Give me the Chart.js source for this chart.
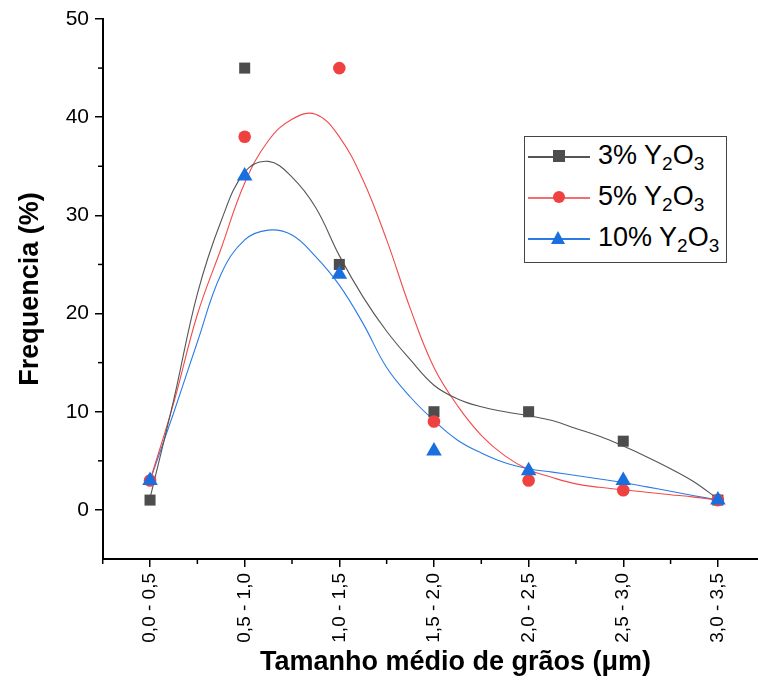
<!DOCTYPE html>
<html>
<head>
<meta charset="utf-8">
<script src="https://cdn.jsdelivr.net/npm/chart.js@4.4.1/dist/chart.umd.min.js"></script>
<style>
  body { margin: 0; overflow: hidden; background: #fff; }
  #wrap { position: relative; width: 817px; height: 682px; }
  #legend { position: absolute; left: 524px; top: 136px; width: 201px; height: 125px;
            border: 1.5px solid #444; background: #fff; font-family: 'Liberation Sans', Arial, sans-serif; }
  .ln { position: absolute; left: 3px; width: 62px; height: 1.5px; }
  .mk { position: absolute; }
  .tx { position: absolute; left: 73px; font-size: 27px; line-height: 30px; color: #000; white-space: nowrap; }
  .tx sub { font-size: 19px; vertical-align: -6px; line-height: 0; }
</style>
</head>
<body>
<div id="wrap">
  <canvas id="myChart" width="817" height="682"></canvas>
  <div id="legend"></div>
</div>
<script>
// grain size classes (um)
var categories = ['0,0 - 0,5', '0,5 - 1,0', '1,0 - 1,5', '1,5 - 2,0', '2,0 - 2,5', '2,5 - 3,0', '3,0 - 3,5'];

// measured frequencies (%)
var freq3 = [1, 45, 25, 10, 10, 7, 1];
var freq5 = [3, 38, 45, 9, 3, 2, 1];
var freq10 = [3, 34, 24, 6, 4, 3, 1];

// fitted curves, every quarter class
var fitX = [0, 0.25, 0.5, 0.75, 1, 1.25, 1.5, 1.75, 2, 2.25, 2.5, 2.75, 3, 3.25, 3.5, 3.75, 4, 4.25, 4.5, 4.75, 5, 5.25, 5.5, 5.75, 6];
var fit3 = [1.2, 11.2, 22.0, 29.4, 34.4, 35.5, 33.9, 30.8, 25.9, 21.7, 18.2, 15.3, 12.7, 11.3, 10.5, 10.0, 9.6, 9.1, 8.3, 7.5, 6.5, 5.4, 4.2, 2.85, 1.1];
var fit5 = [3, 10.9, 19.9, 26.6, 33.3, 37.6, 39.8, 40.3, 38.0, 33.6, 27.5, 20.5, 14.5, 10.6, 7.6, 5.5, 4.1, 3.3, 2.65, 2.3, 2.05, 1.8, 1.55, 1.3, 1.0];
var fit10 = [3, 9.9, 17.1, 24.0, 27.5, 28.5, 28.0, 25.8, 22.9, 19.0, 14.5, 11.5, 9.1, 7.1, 5.8, 4.8, 4.2, 3.85, 3.5, 3.15, 2.8, 2.35, 1.9, 1.45, 1.0];

var seriesNames = ['3%', '5%', '10%'];
var minorX = [-0.5, 0.5, 1.5, 2.5, 3.5, 4.5, 5.5, 6.5];
var minorY = [5, 15, 25, 35, 45];

var font = "'Liberation Sans', Arial, sans-serif";
var colGray = '#4d4d4d', colRed = '#f04141', colBlue = '#1a6fe0';

function pts(xs, ys) {
    return ys.map(function (y, i) { return {x: xs[i], y: y}; });
}
var idx = categories.map(function (c, i) { return i; });

// short minor ticks, drawn on the scales
var minorTicks = {
    id: 'minorTicks',
    afterDraw: function (chart) {
        var ctx = chart.ctx, x = chart.scales.x, y = chart.scales.y;
        ctx.save();
        ctx.strokeStyle = '#000';
        ctx.lineWidth = 1.5;
        minorX.forEach(function (v) {
            var px = x.getPixelForValue(v);
            ctx.beginPath(); ctx.moveTo(px, x.top); ctx.lineTo(px, x.top + 5); ctx.stroke();
        });
        minorY.forEach(function (v) {
            var py = y.getPixelForValue(v);
            ctx.beginPath(); ctx.moveTo(y.right, py); ctx.lineTo(y.right - 5, py); ctx.stroke();
        });
        ctx.restore();
    }
};

function fitLine(ys, color) {
    return {type: 'line', data: pts(fitX, ys), borderColor: color, borderWidth: 1.1,
            pointRadius: 0, tension: 0.4, fill: false, order: 10};
}
function marks(ys, style, r, color, order) {
    return {type: 'scatter', data: pts(idx, ys), pointStyle: style, pointRadius: r,
            backgroundColor: color, borderWidth: 0, showLine: false, order: order};
}

var ctx = document.getElementById('myChart');
var myChart = new Chart(ctx, {
    data: {
        datasets: [
            fitLine(fit3, '#555555'),
            fitLine(fit5, '#f24a4a'),
            fitLine(fit10, '#2a7be4'),
            marks(freq3, 'rect', 7.8, colGray, 3),
            marks(freq5, 'circle', 6.3, colRed, 2),
            marks(freq10, 'triangle', 9, colBlue, 1)
        ]
    },
    options: {
        responsive: false,
        animation: false,
        devicePixelRatio: 1,
        layout: {padding: {top: 19, right: 3, left: 0, bottom: 0}},
        plugins: {legend: {display: false}, tooltip: {enabled: false}},
        scales: {
            x: {
                type: 'linear', min: -0.497, max: 6.952,
                afterFit: function (s) { s.height = 123; },
                grid: {drawOnChartArea: false, color: '#000', lineWidth: 1.5, tickLength: 8},
                border: {color: '#000', width: 2},
                ticks: {stepSize: 1, includeBounds: false, autoSkip: false, maxRotation: 90, minRotation: 90,
                        padding: 6, color: '#000', font: {family: font, size: 19},
                        callback: function (v) { return categories[v] !== undefined ? categories[v] : ''; }},
                title: {display: true, text: 'Tamanho médio de grãos (μm)', color: '#000',
                        font: {family: font, size: 27, weight: 'bold'}, padding: {top: 0, bottom: 3}}
            },
            y: {
                type: 'linear', min: -5, max: 50,
                afterFit: function (s) { s.width = 103; },
                grid: {drawOnChartArea: false, color: '#000', lineWidth: 1.5, tickLength: 8},
                border: {color: '#000', width: 2},
                ticks: {stepSize: 10, includeBounds: false, padding: 6, color: '#000', font: {family: font, size: 21}},
                title: {display: true, text: 'Frequencia (%)', color: '#000',
                        font: {family: font, size: 27, weight: 'bold'}, padding: {top: 14, bottom: 0}}
            }
        }
    },
    plugins: [minorTicks]
});

// legend with subscripts
var legend = document.getElementById('legend');
var rows = [
    {c: '#555555', y: 19, mk: 'width:11.6px;height:11.6px;background:' + colGray + ';left:28.2px;top:13.2px;'},
    {c: '#f07070', y: 60, mk: 'width:12.6px;height:12.6px;border-radius:50%;background:' + colRed + ';left:27.7px;top:53.7px;'},
    {c: '#2a7be4', y: 101, mk: 'width:0;height:0;border-left:7.8px solid transparent;border-right:7.8px solid transparent;border-bottom:13.5px solid ' + colBlue + ';left:26.2px;top:93.5px;'}
];
rows.forEach(function (r, i) {
    legend.innerHTML +=
        '<div class="ln" style="top:' + r.y + 'px;background:' + r.c + '"></div>' +
        '<div class="mk" style="' + r.mk + '"></div>' +
        '<div class="tx" style="top:' + (r.y - 16) + 'px">' + seriesNames[i] + ' Y<sub>2</sub>O<sub>3</sub></div>';
});
</script>
</body>
</html>
